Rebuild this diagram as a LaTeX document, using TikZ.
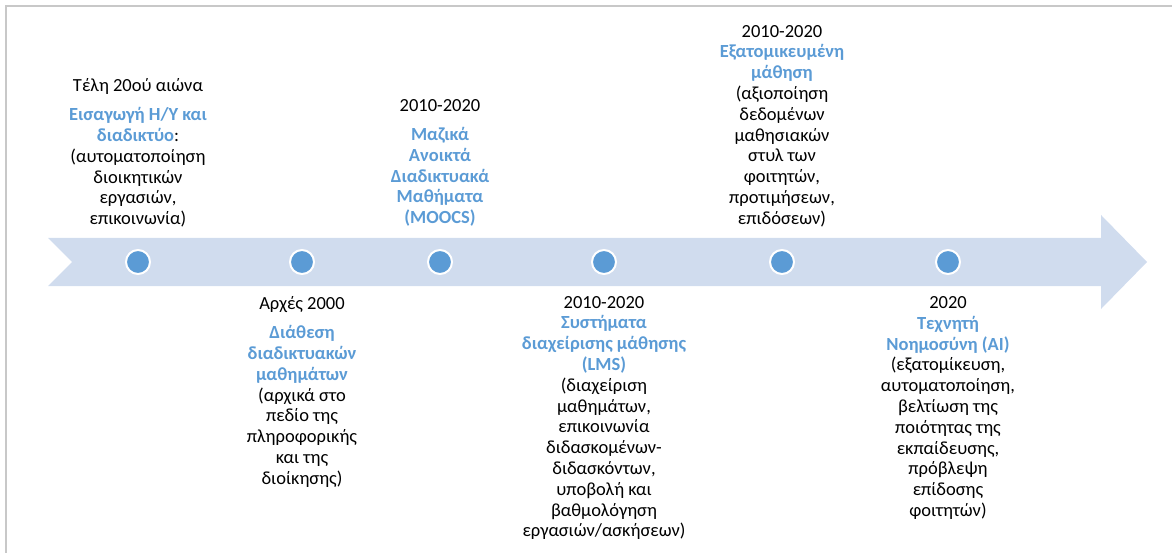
\documentclass[tikz,border=0pt]{standalone}
\usepackage{fontspec}
\setmainfont{Carlito}
\definecolor{arrowfill}{HTML}{D0DCEE}
\definecolor{dotblue}{HTML}{5B9BD5}
\definecolor{titleblue}{HTML}{5B9BD5}
\definecolor{framegray}{HTML}{C8C8C8}
\newcommand{\ttl}[1]{\textcolor{titleblue}{\bfseries #1}}
\tikzset{
  dot/.style={circle, fill=dotblue, draw=white, line width=2pt, minimum size=24pt, inner sep=0pt},
  label/.style={align=center, inner sep=0pt, font=\fontsize{18.5pt}{20.8pt}\selectfont, text=black}
}
\begin{document}
\begin{tikzpicture}[x=1pt,y=-1pt]
\useasboundingbox (0,0) rectangle (1172,553);
% frame
\draw[framegray, line width=2pt] (6,553) -- (6,6) -- (1172,6);
% arrow
\fill[arrowfill] (48,238) -- (1101,238) -- (1101,215) -- (1147,262) -- (1101,309) -- (1101,286) -- (48,286) -- (72,262) -- cycle;
% dots
\node[dot] (d1) at (138,262) {};
\node[dot] (d2) at (302,262) {};
\node[dot] (d3) at (440,262) {};
\node[dot] (d4) at (604,262) {};
\node[dot] (d5) at (782,262) {};
\node[dot] (d6) at (948,262) {};
% labels
\node[label] (t1) at (138,153) {Τέλη 20ού αιώνα\\[8pt]
\ttl{Εισαγωγή Η/Υ και}\\ \ttl{διαδικτύο}:\\ (αυτοματοποίηση\\ διοικητικών\\ εργασιών,\\ επικοινωνία)};
\node[label] (t2) at (302,392) {Αρχές 2000\\[8pt]
\ttl{Διάθεση}\\ \ttl{διαδικτυακών}\\ \ttl{μαθημάτων}\\ (αρχικά στο\\ πεδίο της\\ πληροφορικής\\ και της\\ διοίκησης)};
\node[label] (t3) at (440,163) {2010-2020\\[8pt]
\ttl{Μαζικά}\\ \ttl{Ανοικτά}\\ \ttl{Διαδικτυακά}\\ \ttl{Μαθήματα}\\ \ttl{(MOOCS)}};
\node[label] (t4) at (604,418) {2010-2020\\
\ttl{Συστήματα}\\ \ttl{διαχείρισης μάθησης}\\ \ttl{(LMS)}\\ (διαχείριση\\ μαθημάτων,\\ επικοινωνία\\ διδασκομένων-\\ διδασκόντων,\\ υποβολή και\\ βαθμολόγηση\\ εργασιών/ασκήσεων)};
\node[label] (t5) at (782,126) {2010-2020\\
\ttl{Εξατομικευμένη}\\ \ttl{μάθηση}\\ (αξιοποίηση\\ δεδομένων\\ μαθησιακών\\ στυλ των\\ φοιτητών,\\ προτιμήσεων,\\ επιδόσεων)};
\node[label] (t6) at (948,408) {2020\\
\ttl{Τεχνητή}\\ \ttl{Νοημοσύνη (AI)}\\ (εξατομίκευση,\\ αυτοματοποίηση,\\ βελτίωση της\\ ποιότητας της\\ εκπαίδευσης,\\ πρόβλεψη\\ επίδοσης\\ φοιτητών)};
\end{tikzpicture}
\end{document}
